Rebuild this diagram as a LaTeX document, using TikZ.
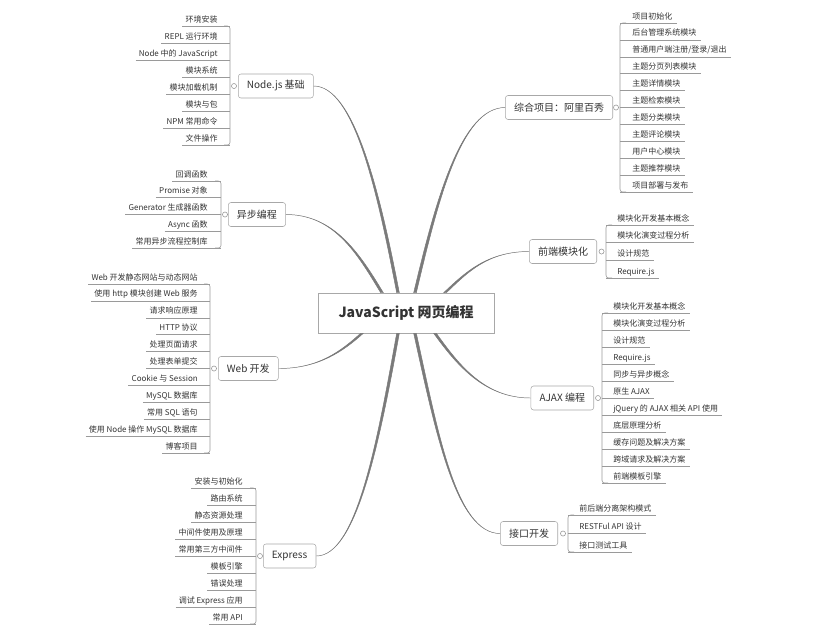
\documentclass[tikz,border=0pt]{standalone}
\usepackage{fontspec}
\setmainfont{Noto Sans CJK SC}
\usetikzlibrary{calc}
\definecolor{inkgray}{HTML}{333333}
\definecolor{rulegray}{HTML}{9A9A9A}
\definecolor{boxgray}{HTML}{A8A8A8}
\definecolor{limbgray}{HTML}{7A7A7A}
\tikzstyle{leaf}=[inner sep=0pt, text=inkgray, font=\fontsize{6}{7}\selectfont]
\tikzstyle{topic}=[
  draw=boxgray, fill=white, rounded corners=2pt,
  minimum height=18pt, inner xsep=6.5pt,
  text=inkgray, font=\fontsize{7.5}{9}\selectfont
]
\tikzstyle{hub}=[
  draw=boxgray, fill=white, minimum width=132pt, minimum height=30pt,
  text=inkgray, font=\bfseries\fontsize{10.5}{12}\selectfont
]
\tikzstyle{twig}=[draw=rulegray, line width=0.45pt]
\tikzstyle{spine}=[twig, rounded corners=2pt]
\tikzstyle{knob}=[draw=rulegray, fill=white, line width=0.45pt]
\tikzstyle{limb}=[fill=limbgray, draw=limbgray, line width=0.35pt]

\begin{document}
\begin{tikzpicture}[x=0.75pt, y=-0.75pt]
    \useasboundingbox (0,0) rectangle (813,633);
    \node[hub] (root) at (406,313) {JavaScript 网页编程};
    \coordinate (t1) at ($(root.north)+(-24,0)$);
    \coordinate (t2) at ($(root.north)+(-8,0)$);
    \coordinate (t3) at ($(root.north)+(9,0)$);
    \coordinate (t4) at ($(root.north)+(39,0)$);
    \coordinate (b1) at ($(root.south)+(-44,0)$);
    \coordinate (b2) at ($(root.south)+(-8,0)$);
    \coordinate (b3) at ($(root.south)+(9,0)$);
    \coordinate (b4) at ($(root.south)+(29,0)$);

    % left side
    \node[topic, anchor=west] (nj) at (238,86) {Node.js 基础};
    \foreach \t [count=\i] in {环境安装, REPL 运行环境, Node 中的 JavaScript, 模块系统,
        模块加载机制, 模块与包, NPM 常用命令, 文件操作}{
      \node[leaf, anchor=base east] (nj\i) at (218, {22+17*(\i-1)}) {\t};
      \draw[twig] ([shift={(-3,4)}]nj\i.base west) -- (230, {26+17*(\i-1)});
    }
    \draw[spine] (224,26) -- (230,26) -- (230,145) -- (224,145);
    \draw[knob] (234,86) circle[radius=1.9pt];

    \node[topic, anchor=west] (yb) at (228,214.5) {异步编程};
    \foreach \t [count=\i] in {回调函数, Promise 对象, Generator 生成器函数, Async 函数,
        常用异步流程控制库}{
      \node[leaf, anchor=base east] (yb\i) at (208, {177+16.75*(\i-1)}) {\t};
      \draw[twig] ([shift={(-3,4)}]yb\i.base west) -- (221, {181+16.75*(\i-1)});
    }
    \draw[spine] (215,181) -- (221,181) -- (221,248) -- (215,248);
    \draw[knob] (225,214.5) circle[radius=1.9pt];

    \node[topic, anchor=west] (wb) at (218,368.5) {Web 开发};
    \foreach \t [count=\i] in {Web 开发静态网站与动态网站, 使用 http 模块创建 Web 服务,
        请求响应原理, HTTP 协议, 处理页面请求, 处理表单提交, Cookie 与 Session,
        MySQL 数据库, 常用 SQL 语句, 使用 Node 操作 MySQL 数据库, 博客项目}{
      \node[leaf, anchor=base east] (wb\i) at (198, {280+16.9*(\i-1)}) {\t};
      \draw[twig] ([shift={(-3,4)}]wb\i.base west) -- (210, {284+16.9*(\i-1)});
    }
    \draw[spine] (204,284) -- (210,284) -- (210,453) -- (204,453);
    \draw[knob] (214,368.5) circle[radius=1.9pt];

    \node[topic, anchor=west] (ex) at (263,556) {Express};
    \foreach \t [count=\i] in {安装与初始化, 路由系统, 静态资源处理, 中间件使用及原理,
        常用第三方中间件, 模板引擎, 错误处理, 调试 Express 应用, 常用 API}{
      \node[leaf, anchor=base east] (ex\i) at (243, {484+17*(\i-1)}) {\t};
      \draw[twig] ([shift={(-3,4)}]ex\i.base west) -- (256, {488+17*(\i-1)});
    }
    \draw[spine] (250,488) -- (256,488) -- (256,624) -- (250,624);
    \draw[knob] (260,556) circle[radius=1.9pt];

    % right side
    \node[topic, anchor=east] (zh) at (613,107.5) {综合项目：阿里百秀};
    \foreach \t [count=\i] in {项目初始化, 后台管理系统模块, 普通用户端注册/登录/退出,
        主题分页列表模块, 主题详情模块, 主题检索模块, 主题分类模块, 主题评论模块,
        用户中心模块, 主题推荐模块, 项目部署与发布}{
      \node[leaf, anchor=base west] (zh\i) at (632, {19+16.9*(\i-1)}) {\t};
      \draw[twig] (620, {23+16.9*(\i-1)}) -- ([shift={(4,4)}]zh\i.base east);
    }
    \draw[spine] (626,23) -- (620,23) -- (620,192) -- (626,192);
    \draw[knob] (616,107.5) circle[radius=1.9pt];

    \node[topic, anchor=east] (qd) at (597,251.5) {前端模块化};
    \foreach \t [count=\i] in {模块化开发基本概念, 模块化演变过程分析, 设计规范, Require.js}{
      \node[leaf, anchor=base west] (qd\i) at (617, {221+17.7*(\i-1)}) {\t};
      \draw[twig] (606, {225+17.7*(\i-1)}) -- ([shift={(4,4)}]qd\i.base east);
    }
    \draw[spine] (612,225) -- (606,225) -- (606,278) -- (612,278);
    \draw[knob] (601.5,251.5) circle[radius=1.9pt];

    \node[topic, anchor=east] (aj) at (594,398) {AJAX 编程};
    \foreach \t [count=\i] in {模块化开发基本概念, 模块化演变过程分析, 设计规范, Require.js,
        同步与异步概念, 原生 AJAX, jQuery 的 AJAX 相关 API 使用, 底层原理分析,
        缓存问题及解决方案, 跨域请求及解决方案, 前端模板引擎}{
      \node[leaf, anchor=base west] (aj\i) at (613, {309+17*(\i-1)}) {\t};
      \draw[twig] (602, {313+17*(\i-1)}) -- ([shift={(4,4)}]aj\i.base east);
    }
    \draw[spine] (608,313) -- (602,313) -- (602,483) -- (608,483);
    \draw[knob] (598,398) circle[radius=1.9pt];

    \node[topic, anchor=east] (jk) at (558,533.5) {接口开发};
    \foreach \t [count=\i] in {前后端分离架构模式, RESTFul API 设计, 接口测试工具}{
      \node[leaf, anchor=base west] (jk\i) at (579, {511+18.5*(\i-1)}) {\t};
      \draw[twig] (568, {515+18.5*(\i-1)}) -- ([shift={(4,4)}]jk\i.base east);
    }
    \draw[spine] (574,515) -- (568,515) -- (568,552) -- (574,552);
    \draw[knob] (563,533.5) circle[radius=1.9pt];

    % tapered links to the centre
    \foreach \p/\q/\ax/\bx/\by in {nj.east/t2/40/-20/-104, yb.east/t1/48/-24/-40,
        zh.west/t3/-44/22/-93, qd.west/t4/-42/21/-20, wb.east/b1/40/-20/18,
        ex.east/b2/40/-20/111, aj.west/b4/-46/23/32, jk.west/b3/-44/22/100}
      \fill[limb] (\p) .. controls +(\ax,0) and +(\bx,\by) .. ([xshift=-1pt]\q)
        -- ([xshift=1pt]\q) .. controls +(\bx,\by) and +(\ax,0) .. (\p) -- cycle;
\end{tikzpicture}
\end{document}
